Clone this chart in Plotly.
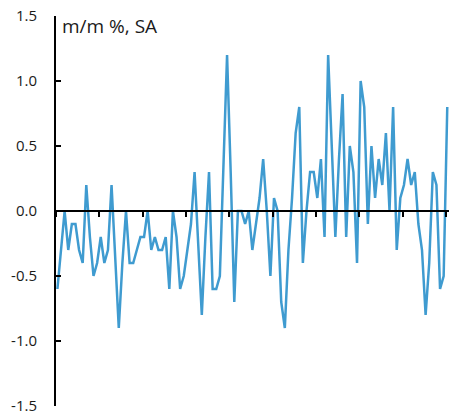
import plotly.graph_objects as go

# Monthly change, m/m %, SA (109 consecutive months)
months = list(range(109))
values = [
    -0.6, -0.3, 0.0, -0.3, -0.1, -0.1, -0.3, -0.4, 0.2, -0.2, -0.5, -0.4,
    -0.2, -0.4, -0.3, 0.2, -0.3, -0.9, -0.4, 0.0, -0.4, -0.4, -0.3, -0.2,
    -0.2, 0.0, -0.3, -0.2, -0.3, -0.3, -0.2, -0.6, 0.0, -0.2, -0.6, -0.5,
    -0.3, -0.1, 0.3, -0.2, -0.8, -0.2, 0.3, -0.6, -0.6, -0.5, 0.3, 1.2,
    0.3, -0.7, 0.0, 0.0, -0.1, 0.0, -0.3, -0.1, 0.1, 0.4, 0.0, -0.5,
    0.1, 0.0, -0.7, -0.9, -0.3, 0.1, 0.6, 0.8, -0.4, 0.0, 0.3, 0.3,
    0.1, 0.4, -0.2, 1.2, 0.5, -0.2, 0.4, 0.9, -0.2, 0.5, 0.3, -0.4,
    1.0, 0.8, -0.1, 0.5, 0.1, 0.4, 0.2, 0.6, 0.0, 0.8, -0.3, 0.1,
    0.2, 0.4, 0.2, 0.3, -0.1, -0.3, -0.8, -0.4, 0.3, 0.2, -0.6, -0.5,
    0.8,
]
year_ticks = [-0.4 + 12 * k for k in range(10)]
y_ticks = [-1.5, -1.0, -0.5, 0.0, 0.5, 1.0, 1.5]
y_tick_labels = ["-1.5", "-1.0", "-0.5", "0.0", "0.5", "1.0", "1.5"]

fig = go.Figure()
fig.add_trace(go.Scatter(
    x=months, y=values, mode="lines",
    line=dict(color="#3F9BD0", width=2.5),
    hoverinfo="skip", showlegend=False,
))

fig.update_layout(
    width=458, height=420,
    margin=dict(l=56, r=9, t=16, b=14),
    paper_bgcolor="white", plot_bgcolor="white",
    font=dict(family="Open Sans", size=15, color="#1a1a1a"),
    xaxis=dict(
        range=[-0.39, 108.48],
        anchor="free", position=0.5,
        showline=True, linecolor="black", linewidth=2,
        ticks="outside", ticklen=5, tickwidth=2, tickcolor="black",
        tickvals=year_ticks, showticklabels=False,
        showgrid=False, zeroline=False, automargin=False,
    ),
    yaxis=dict(
        range=[-1.5, 1.5],
        showline=True, linecolor="black", linewidth=2,
        ticks="inside", ticklen=5, tickwidth=2, tickcolor="black",
        tickvals=y_ticks, ticktext=y_tick_labels,
        ticklabelstandoff=14, ticklabeloverflow="allow",
        showgrid=False, zeroline=False, automargin=False,
    ),
    annotations=[dict(
        text="m/m %, SA", xref="paper", yref="paper",
        x=0.01, y=1, xanchor="left", yanchor="top", yshift=5,
        showarrow=False, font=dict(size=19, color="#1a1a1a"),
    )],
)

fig.write_html(
    "out.html",
    config={"displayModeBar": False, "staticPlot": True},
    post_script="document.body.style.margin='0';",
)
